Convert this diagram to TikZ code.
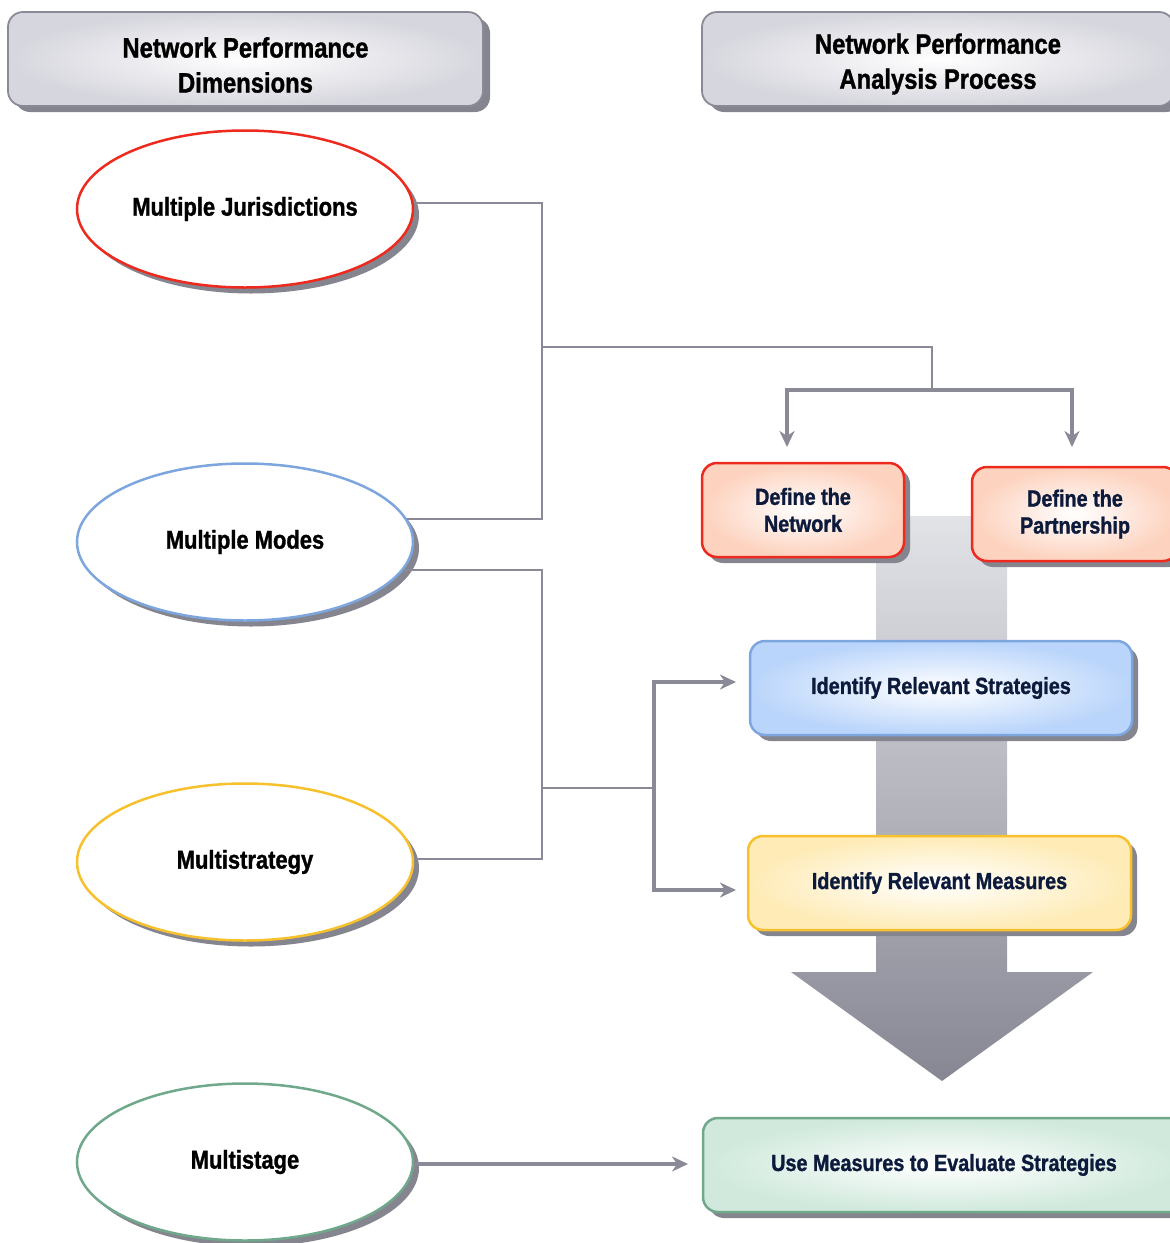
\documentclass[tikz,border=0pt]{standalone}
\usepackage{fontspec}
\newfontfamily\cond[FakeStretch=0.85,FakeBold=1.2]{Liberation Sans}
\usetikzlibrary{shapes.geometric,arrows.meta,shadows}
\definecolor{hdrfill}{HTML}{D6D6DE}
\definecolor{shd}{HTML}{85858F}
\definecolor{lnc}{HTML}{8A8A96}
\definecolor{redb}{HTML}{EE2A1E}
\definecolor{peach}{HTML}{FDD2BE}
\definecolor{blueb}{HTML}{7EA6DE}
\definecolor{bluef}{HTML}{BAD5FB}
\definecolor{yelb}{HTML}{F6C12C}
\definecolor{yelf}{HTML}{FEEBB6}
\definecolor{grnb}{HTML}{6FA88B}
\definecolor{grnf}{HTML}{D0E9DC}
\definecolor{navy}{HTML}{0C1A3C}
\definecolor{arrtop}{HTML}{E2E3E7}
\definecolor{arrbot}{HTML}{868793}
\begin{document}
\begin{tikzpicture}[x=1pt,y=-1pt,
  hdr/.style={rectangle, rounded corners=15pt, draw=lnc, line width=1.8pt,
    inner color=white, outer color=hdrfill, minimum height=94pt,
    drop shadow={shadow xshift=7pt, shadow yshift=-6pt, fill=shd, opacity=1}},
  hdrtext/.style={align=center, font=\cond\bfseries\fontsize{28}{35}\selectfont, text=black},
  oval/.style={ellipse, minimum width=336pt, minimum height=157pt, inner sep=0pt,
    fill=white, line width=2.5pt,
    drop shadow={shadow xshift=6pt, shadow yshift=-6pt, fill=shd, opacity=1},
    font=\cond\bfseries\fontsize{25.8}{30}\selectfont, text=black},
  stepbox/.style={rectangle, rounded corners=15pt, line width=2.5pt, minimum height=94pt,
    drop shadow={shadow xshift=6pt, shadow yshift=-6pt, fill=shd, opacity=1},
    align=center, font=\cond\bfseries\fontsize{23.3}{27}\selectfont, text=navy},
  thinln/.style={draw=lnc, line width=2.3pt},
  thickln/.style={draw=lnc, line width=4.6pt, -{Stealth[length=16pt,width=15pt,inset=5pt]}}
]
\useasboundingbox (0,0) rectangle (1170,1243);

% big process arrow
\shade[top color=arrtop, bottom color=arrbot]
  (876,516) -- (1007,516) -- (1007,972) -- (1093,972) -- (942,1081) -- (791,972) -- (876,972) -- cycle;

% headers
\node[hdr, minimum width=475pt, label={[hdrtext, yshift=-6pt]center:{Network Performance\\Dimensions}}] (h1) at (245.5,59) {};
\node[hdr, minimum width=472pt, label={[hdrtext, yshift=-5pt]center:{Network Performance\\Analysis Process}}] (h2) at (938,59) {};

% dimension ellipses
\node[oval, draw=redb]  (e1) at (245,209)  {Multiple Jurisdictions};
\node[oval, draw=blueb] (e2) at (245,542)  {Multiple Modes};
\node[oval, draw=yelb]  (e3) at (245,862)  {Multistrategy};
\node[oval, draw=grnb]  (e4) at (245,1162) {Multistage};

% process boxes
\node[stepbox, draw=redb, inner color=white, outer color=peach, minimum width=202pt] (dn) at (803,510) {Define the\\Network};
\node[stepbox, draw=redb, inner color=white, outer color=peach, minimum width=206pt] (dp) at (1075,514) {Define the\\Partnership};
\node[stepbox, draw=blueb, inner color=white, outer color=bluef, minimum width=382pt] (irs) at (941,688) {Identify Relevant Strategies};
\node[stepbox, draw=yelb, inner color=white, outer color=yelf, minimum width=383pt] (irm) at (939.5,883) {Identify Relevant Measures};
\node[stepbox, draw=grnb, inner color=white, outer color=grnf, minimum width=482pt] (ume) at (944,1165) {Use Measures to Evaluate Strategies};

% junction coordinates
\coordinate (jA) at (542,347);
\coordinate (jB) at (932,390);
\coordinate (tA) at (787,447);
\coordinate (tB) at (1072,447);
\coordinate (jC) at (542,788);
\coordinate (jD) at (654,788);
\coordinate (tC) at (736,682);
\coordinate (tD) at (736,890);
\coordinate (tE) at (688,1164);

% connectors
\draw[thinln] (e1.2) -- (e1.2 -| jA) -- (e2.8 -| jA) -- (e2.8);
\draw[thinln] (jA) -| (jB);
\draw[thickln] (jB) -| (tA);
\draw[thickln] (jB) -| (tB);

\draw[thinln] (e2.-10) -- (e2.-10 -| jC) -- (e3.1 -| jC) -- (e3.1);
\draw[thinln] (jC) -- (jD);
\draw[thickln] (jD) |- (tC);
\draw[thickln] (jD) |- (tD);

\draw[thickln] (e4.east |- tE) -- (tE);
\end{tikzpicture}
\end{document}
